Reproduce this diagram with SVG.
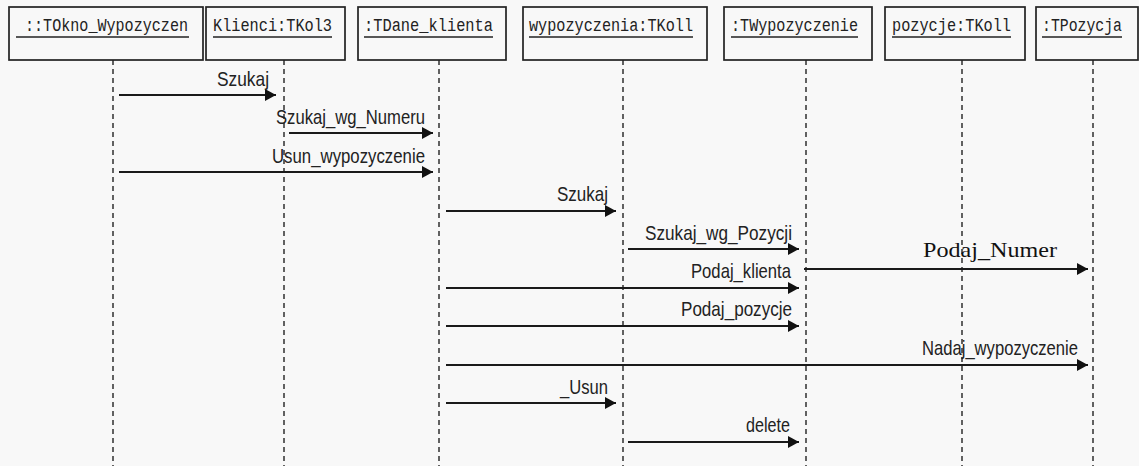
<svg xmlns="http://www.w3.org/2000/svg" width="1139" height="466" viewBox="0 0 1139 466">
  <style>
    .box { fill: #f8f8f8; stroke: #222; stroke-width: 1.7; }
    .name { font-family: "Liberation Mono", "DejaVu Sans Mono", monospace; font-size: 18px; fill: #222; }
    .uline { stroke: #222; stroke-width: 1.5; }
    .life { stroke: #222; stroke-width: 1.4; stroke-dasharray: 5 4; fill: none; }
    .msg { stroke: #1a1a1a; stroke-width: 1.8; fill: none; marker-end: url(#head); }
    .lbl { font-family: "Liberation Sans", Arial, sans-serif; font-size: 21px; fill: #222; }
    .lbl-serif { font-family: "Liberation Serif", "Times New Roman", serif; font-size: 21px; fill: #111; }
  </style>
  <defs>
    <marker id="head" markerUnits="userSpaceOnUse" markerWidth="12" markerHeight="13" refX="11" refY="6" orient="auto">
      <path d="M0,0 L11,6 L0,12 Z" fill="#111"/>
    </marker>
  </defs>

  <rect x="0" y="0" width="1139" height="466" fill="#f8f8f8"/>

  <!-- objects with their lifelines -->
  <g id="okno">
    <rect class="box" x="9" y="7" width="194" height="53"/>
    <text class="name" x="25" y="31" textLength="163" lengthAdjust="spacingAndGlyphs">::TOkno_Wypozyczen</text>
    <line class="uline" x1="16" y1="37" x2="189" y2="37"/>
    <line class="life" x1="113" y1="60" x2="113" y2="466"/>
  </g>
  <g id="klienci">
    <rect class="box" x="206" y="7" width="139" height="53"/>
    <text class="name" x="213" y="31" textLength="119" lengthAdjust="spacingAndGlyphs">Klienci:TKol3</text>
    <line class="uline" x1="213" y1="37" x2="332" y2="37"/>
    <line class="life" x1="284" y1="60" x2="284" y2="466"/>
  </g>
  <g id="dane-klienta">
    <rect class="box" x="358" y="7" width="148" height="53"/>
    <text class="name" x="364" y="31" textLength="129" lengthAdjust="spacingAndGlyphs">:TDane_klienta</text>
    <line class="uline" x1="364" y1="37" x2="493" y2="37"/>
    <line class="life" x1="439" y1="60" x2="439" y2="466"/>
  </g>
  <g id="wypozyczenia">
    <rect class="box" x="523" y="7" width="184" height="53"/>
    <text class="name" x="529" y="31" textLength="164" lengthAdjust="spacingAndGlyphs">wypozyczenia:TKoll</text>
    <line class="uline" x1="529" y1="37" x2="693" y2="37"/>
    <line class="life" x1="623" y1="60" x2="623" y2="466"/>
  </g>
  <g id="wypozyczenie">
    <rect class="box" x="724" y="7" width="148" height="53"/>
    <text class="name" x="731" y="31" textLength="127" lengthAdjust="spacingAndGlyphs">:TWypozyczenie</text>
    <line class="uline" x1="731" y1="37" x2="858" y2="37"/>
    <line class="life" x1="806" y1="60" x2="806" y2="466"/>
  </g>
  <g id="pozycje">
    <rect class="box" x="885" y="7" width="140" height="53"/>
    <text class="name" x="892" y="31" textLength="119" lengthAdjust="spacingAndGlyphs">pozycje:TKoll</text>
    <line class="uline" x1="892" y1="37" x2="1011" y2="37"/>
    <line class="life" x1="962" y1="60" x2="962" y2="466"/>
  </g>
  <g id="pozycja">
    <rect class="box" x="1036" y="7" width="102" height="53"/>
    <text class="name" x="1042" y="31" textLength="80" lengthAdjust="spacingAndGlyphs">:TPozycja</text>
    <line class="uline" x1="1042" y1="37" x2="1122" y2="37"/>
    <line class="life" x1="1093" y1="60" x2="1093" y2="466"/>
  </g>

  <!-- messages -->
  <g id="messages">
    <line class="msg" x1="119" y1="95" x2="276" y2="95"/>
    <text class="lbl" x="217" y="86" textLength="52" lengthAdjust="spacingAndGlyphs">Szukaj</text>

    <line class="msg" x1="289" y1="133" x2="433" y2="133"/>
    <text class="lbl" x="276" y="124" textLength="149" lengthAdjust="spacingAndGlyphs">Szukaj_wg_Numeru</text>

    <line class="msg" x1="119" y1="172" x2="433" y2="172"/>
    <text class="lbl" x="272" y="163" textLength="153" lengthAdjust="spacingAndGlyphs">Usun_wypozyczenie</text>

    <line class="msg" x1="446" y1="211" x2="616" y2="211"/>
    <text class="lbl" x="557" y="201" textLength="51" lengthAdjust="spacingAndGlyphs">Szukaj</text>

    <line class="msg" x1="628" y1="249" x2="799" y2="249"/>
    <text class="lbl" x="645" y="240" textLength="147" lengthAdjust="spacingAndGlyphs">Szukaj_wg_Pozycji</text>

    <line class="msg" x1="804" y1="269" x2="1088" y2="269"/>
    <text class="lbl-serif" x="923" y="257" textLength="134" lengthAdjust="spacingAndGlyphs">Podaj_Numer</text>

    <line class="msg" x1="446" y1="288" x2="799" y2="288"/>
    <text class="lbl" x="691" y="278" textLength="100" lengthAdjust="spacingAndGlyphs">Podaj_klienta</text>

    <line class="msg" x1="446" y1="326" x2="799" y2="326"/>
    <text class="lbl" x="681" y="316" textLength="111" lengthAdjust="spacingAndGlyphs">Podaj_pozycje</text>

    <line class="msg" x1="446" y1="365" x2="1088" y2="365"/>
    <text class="lbl" x="922" y="355" textLength="156" lengthAdjust="spacingAndGlyphs">Nadaj_wypozyczenie</text>

    <line class="msg" x1="446" y1="403" x2="616" y2="403"/>
    <text class="lbl" x="560" y="394" textLength="48" lengthAdjust="spacingAndGlyphs">_Usun</text>

    <line class="msg" x1="628" y1="442" x2="799" y2="442"/>
    <text class="lbl" x="746" y="432" textLength="44" lengthAdjust="spacingAndGlyphs">delete</text>
  </g>
</svg>
